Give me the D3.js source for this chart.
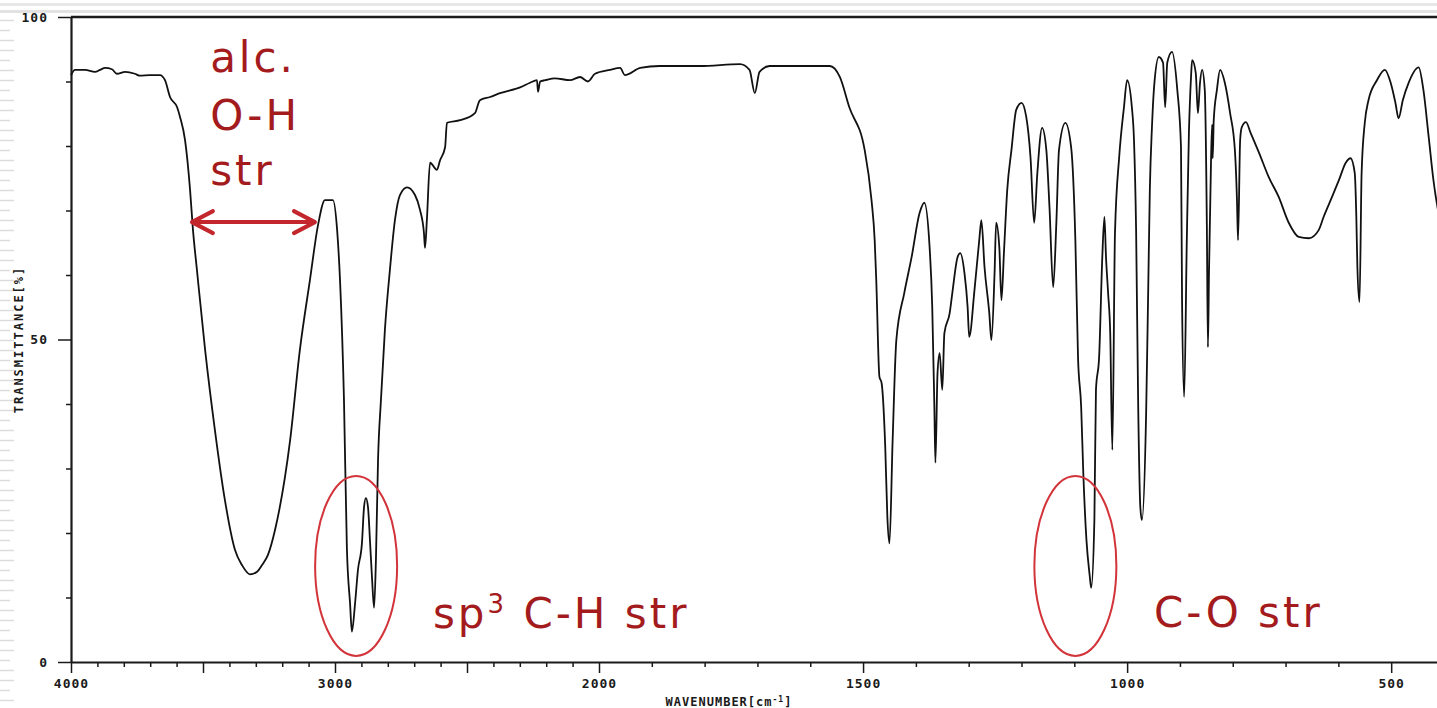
<!DOCTYPE html>
<html>
<head>
<meta charset="utf-8">
<script src="https://cdn.jsdelivr.net/npm/d3@7"></script>
<style>
  body { margin: 0; background: #fff; }
  svg { display: block; }
  .axis text { font-family: "DejaVu Sans Mono", monospace; font-weight: bold; font-size: 13px; fill: #1a1a1a; letter-spacing: 1px; }
  .axis line, .axis path { stroke: #1a1a1a; }
  .note { font-family: "DejaVu Sans", Verdana, sans-serif; font-size: 42px; fill: #a41b1e; letter-spacing: 3px; }
</style>
</head>
<body>
<div id="chart-area"></div>
<script>
// IR spectrum (wavenumber in cm-1, transmittance in %)
var wavenumber = [
  4000,3985,3947,3909,3890,3871,3845,3826,3795,3758,
  3739,3701,3663,3644,3625,3598,3587,3568,3549,3538,
  3523,3492,3455,3417,3379,3352,3322,3295,3277,3254,3227,3170,3133,
  3095,3064,3038,3008,2992,2981,2966,2955,2943,2936,
  2924,2913,2898,2890,2883,2875,2867,2860,2852,2845,
  2837,2826,2811,2792,2773,2754,2727,2697,2678,2663,
  2659,2652,2640,2614,2602,2583,2576,2526,2470,2451,
  2413,2375,2299,2261,2235,2231,2223,2204,2167,2110,
  2072,2042,2015,1979,1960,1951,1922,1885,1809,1733,
  1715,1705,1696,1677,1620,1563,1544,1526,1497,1484,
  1478,1475,1469,1465,1458,1454,1450,1444,1437,1422,
  1408,1393,1384,1374,1369,1365,1363,1359,1355,1350,
  1346,1336,1331,1321,1316,1308,1302,1299,1289,1280,
  1276,1270,1261,1257,1251,1248,1242,1238,1233,1227,
  1219,1210,1200,1191,1183,1176,1170,1161,1153,1147,
  1140,1134,1129,1117,1106,1098,1093,1087,1083,1077,
  1071,1068,1062,1059,1053,1047,1043,1040,1036,1032,
  1028,1023,1015,1006,1000,991,987,983,979,975,
  972,964,960,957,953,949,940,932,928,924,
  915,905,898,896,892,887,883,879,877,870,
  866,862,858,853,849,847,845,841,839,838,
  836,830,824,815,805,796,792,790,786,783,
  775,766,750,732,713,694,675,656,637,628,
  612,599,586,577,569,566,564,560,556,550,
  543,527,512,501,492,486,478,467,448,439,
  429,420,400
];
var transmittance = [
  91.0,91.8,91.8,91.5,91.8,92.1,91.9,91.2,91.5,91.2,
  90.9,91.0,91.0,90.2,87.6,86.0,84.5,80.9,73.2,67.0,
  60.8,48.4,36.0,25.1,17.4,15.0,13.6,14.0,15.0,16.6,20.5,34.4,48.4,
  59.2,67.8,71.6,71.6,67.0,59.2,40.6,17.7,9.1,4.7,
  9.1,14.3,18.4,24.0,25.4,24.0,18.4,13.2,8.4,15.8,
  31.3,40.6,51.5,60.8,68.5,72.4,73.6,72.4,70.1,66.5,
  64.2,68.5,77.4,76.3,77.8,79.8,83.6,84.0,85.1,87.1,
  87.6,88.2,89.1,89.8,90.2,88.4,90.0,90.2,90.5,90.2,
  90.7,90.0,91.2,91.8,92.1,91.0,92.1,92.4,92.4,92.7,
  91.8,88.2,91.5,92.4,92.4,92.4,90.7,86.0,79.4,71.6,
  65.4,59.2,44.2,43.3,33.3,22.5,18.4,34.4,49.9,57.2,
  62.8,69.6,71.2,64.3,55.0,39.5,30.9,44.8,47.9,42.2,
  51.0,54.1,57.2,62.8,63.4,60.3,55.0,50.4,57.7,65.4,
  68.5,61.2,54.1,49.9,60.3,68.1,64.3,56.1,63.9,73.2,
  79.4,85.6,86.7,84.5,78.3,68.1,75.8,82.8,79.4,70.5,
  58.1,68.1,79.4,83.6,79.8,65.4,47.3,39.5,29.3,18.9,
  13.5,11.5,22.0,42.2,47.3,62.8,69.0,62.8,57.2,51.0,
  32.9,66.5,78.3,86.0,90.2,86.0,80.9,67.0,39.5,24.0,
  22.0,38.6,58.1,73.2,82.9,89.1,93.8,92.9,86.0,92.9,
  94.6,88.7,79.8,56.1,41.1,65.4,82.0,90.7,93.3,91.3,
  85.1,89.8,91.8,88.7,67.4,48.8,60.3,78.3,83.3,78.1,
  84.0,88.7,91.8,89.8,85.1,79.4,71.6,65.4,80.9,82.9,
  83.7,82.0,78.9,75.2,72.1,68.1,65.9,65.7,67.0,69.0,
  72.1,74.7,77.4,78.1,75.8,69.0,61.2,55.8,75.8,83.6,
  87.1,90.2,91.8,89.8,86.7,84.3,87.1,89.8,92.2,88.7,
  81.4,74.7,65.4
];

// axis labels
var xLabels = [4000, 3000, 2000, 1500, 1000, 500];
var yLabels = [0, 50, 100];

// annotations (band names) anchored in data units
var ohLines = ["alc.", "O-H", "str"];
var ohLineT = [91.5, 82.5, 74.0];
var ohArrow = [3542, 3076];   // wavenumber span of the arrow
var bandCircles = [2920, 1098]; // centres of the red ellipses

//============================ SETUP ============================
var W = 1437, H = 708;

var svg = d3.select("#chart-area")
  .append("svg")
  .attr("width", W)
  .attr("height", H);

// slide background stripes (left edge and top)
var deco = svg.append("g").attr("class", "deco");
deco.append("rect").attr("x", 0).attr("y", 3).attr("width", W).attr("height", 3).attr("fill", "#e8e8e8");
deco.append("rect").attr("x", 0).attr("y", 10).attr("width", W).attr("height", 3).attr("fill", "#e2e2e2");
deco.selectAll("line.stripe")
  .data(d3.range(20, 708, 10))
  .enter()
  .append("line")
  .attr("class", "stripe")
  .attr("x1", 0)
  .attr("x2", function(d, i) { return i % 3 == 1 ? 10 : 14; })
  .attr("y1", function(d) { return d + 0.5; })
  .attr("y2", function(d) { return d + 0.5; })
  .attr("stroke", "#dcdcdc")
  .attr("stroke-width", 1.5);

// IR charts have a 2x scale change at 2000 cm-1
var x = d3.scaleLinear()
  .domain([4000, 2000, 400])
  .range([71, 599, 1444]);

var y = d3.scaleLinear()
  .domain([0, 100])
  .range([662, 17]);

//============================ AXES ============================
var xAxisCall = d3.axisBottom(x)
  .tickValues(d3.range(4000, 399, -100))
  .tickSize(5)
  .tickSizeOuter(0)
  .tickPadding(12)
  .tickFormat(function(d) { return xLabels.indexOf(d) >= 0 ? d : ""; });

var xAxisGroup = svg.append("g")
  .attr("class", "x axis")
  .attr("transform", "translate(0," + y(0) + ")")
  .call(xAxisCall);

xAxisGroup.select(".domain").attr("stroke-width", 2.2);
xAxisGroup.selectAll(".tick line")
  .attr("stroke-width", 1.5)
  .attr("y2", function(d) { return d % 500 == 0 ? 11 : 5; });

var yAxisCall = d3.axisLeft(y)
  .tickValues(d3.range(0, 101, 10))
  .tickSize(5)
  .tickSizeOuter(0)
  .tickPadding(18)
  .tickFormat(function(d) { return yLabels.indexOf(d) >= 0 ? d : ""; });

var yAxisGroup = svg.append("g")
  .attr("class", "y axis")
  .attr("transform", "translate(" + x(4000) + ",0)")
  .call(yAxisCall);

yAxisGroup.select(".domain").attr("stroke-width", 2.2);
yAxisGroup.selectAll(".tick line")
  .attr("stroke-width", 1.5)
  .attr("x2", function(d) { return yLabels.indexOf(d) >= 0 ? -13 : -5; });

// top frame line
svg.append("line")
  .attr("x1", x(4000)).attr("x2", W)
  .attr("y1", y(100)).attr("y2", y(100))
  .attr("stroke", "#1a1a1a")
  .attr("stroke-width", 2.6);

// axis titles
var xTitle = svg.append("text")
  .attr("x", 729)
  .attr("y", 706)
  .attr("text-anchor", "middle")
  .style("font-family", "'DejaVu Sans Mono', monospace")
  .style("font-weight", "bold")
  .style("font-size", "12px")
  .style("letter-spacing", "1px")
  .attr("fill", "#1a1a1a")
  .text("WAVENUMBER[cm");
xTitle.append("tspan").attr("baseline-shift", "super").style("font-size", "8px").text("-1");
xTitle.append("tspan").text("]");

svg.append("text")
  .attr("transform", "translate(23," + y(50) + ") rotate(-90)")
  .attr("text-anchor", "middle")
  .style("font-family", "'DejaVu Sans Mono', monospace")
  .style("font-weight", "bold")
  .style("font-size", "12px")
  .style("letter-spacing", "2px")
  .attr("fill", "#1a1a1a")
  .text("TRANSMITTANCE[%]");

//============================ SPECTRUM ============================
var spectrum = d3.zip(wavenumber, transmittance);

svg.append("path")
  .datum(spectrum)
  .attr("fill", "none")
  .attr("stroke", "#111")
  .attr("stroke-width", 1.8)
  .attr("stroke-linejoin", "round")
  .attr("d", d3.line()
    .curve(d3.curveMonotoneX)
    .x(function(d) { return x(d[0]); })
    .y(function(d) { return y(d[1]); })
  );

//============================ ANNOTATIONS ============================
var notes = svg.append("g");

notes.selectAll("text.oh")
  .data(ohLines)
  .enter()
  .append("text")
  .attr("class", "note oh")
  .attr("x", x(3473))
  .attr("y", function(d, i) { return y(ohLineT[i]); })
  .text(function(d) { return d; });

// double headed arrow across the O-H band
var ay = y(68.2), ax1 = x(ohArrow[0]), ax2 = x(ohArrow[1]);
var arrowColor = "#c3262c";
notes.append("line")
  .attr("x1", ax1).attr("x2", ax2)
  .attr("y1", ay).attr("y2", ay)
  .attr("stroke", arrowColor).attr("stroke-width", 4);
notes.append("path")
  .attr("d", "M" + (ax1 + 21) + "," + (ay - 11) + "L" + ax1 + "," + ay + "L" + (ax1 + 21) + "," + (ay + 11))
  .attr("fill", "none").attr("stroke", arrowColor).attr("stroke-width", 4)
  .attr("stroke-linecap", "round").attr("stroke-linejoin", "round");
notes.append("path")
  .attr("d", "M" + (ax2 - 21) + "," + (ay - 11) + "L" + ax2 + "," + ay + "L" + (ax2 - 21) + "," + (ay + 11))
  .attr("fill", "none").attr("stroke", arrowColor).attr("stroke-width", 4)
  .attr("stroke-linecap", "round").attr("stroke-linejoin", "round");

notes.selectAll("ellipse")
  .data(bandCircles)
  .enter()
  .append("ellipse")
  .attr("cx", function(d) { return x(d); })
  .attr("cy", y(14.9))
  .attr("rx", 41)
  .attr("ry", 90)
  .attr("fill", "none")
  .attr("stroke", "#d2343a")
  .attr("stroke-width", 2);

var ch = notes.append("text")
  .attr("class", "note")
  .attr("x", x(2629))
  .attr("y", y(5.3))
  .text("sp");
ch.append("tspan").attr("baseline-shift", "super").style("font-size", "26px").text("3");
ch.append("tspan").text(" C-H str");

notes.append("text")
  .attr("class", "note")
  .attr("x", x(949))
  .attr("y", y(5.4))
  .text("C-O str");
</script>
</body>
</html>
